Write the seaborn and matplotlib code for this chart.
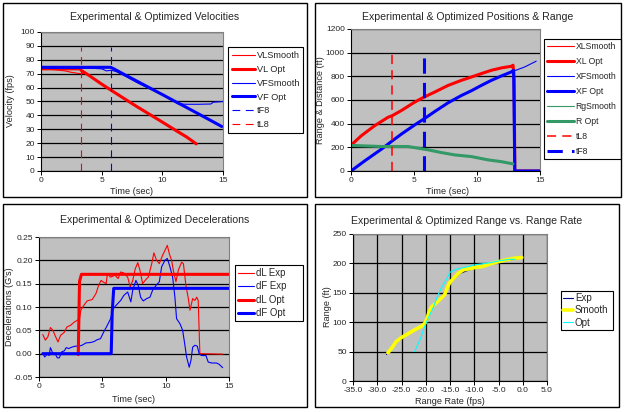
import matplotlib
matplotlib.use("Agg")
import matplotlib.pyplot as plt
import seaborn as sns
from matplotlib.patches import Rectangle
from matplotlib.ticker import FormatStrFormatter

# ---- panel 1: velocities (fps) vs time (sec)
vl_smooth_t = [0, 1, 2, 2.5, 3, 3.3, 3.6, 4, 5, 6, 7, 8, 9, 10, 11, 12, 12.8]
vl_smooth_v = [73.5, 73, 72, 71, 70.3, 70, 70.2, 68.5, 62.3, 56.5, 51, 45.5, 40.3, 35, 29.3, 24, 19.3]
vl_opt_t = [0, 3.2, 3.3, 4, 5, 5.8, 7, 8, 9, 10, 11, 12, 12.8]
vl_opt_v = [73.5, 73.5, 72.5, 68.5, 62.5, 58, 51.3, 45.8, 40.5, 35.2, 29.8, 24.5, 19.5]
vf_smooth_t = [0, 0.2, 0.5, 2, 4, 5, 5.4, 5.8, 6.2, 7, 8, 9, 10, 11, 11.3, 12, 13, 14, 14.2, 15]
vf_smooth_v = [75.8, 74.5, 74, 74, 74, 73.5, 72, 72.5, 71.5, 68, 63.2, 59, 54.8, 50, 48.3, 48, 48, 48.2, 49.5, 50]
vf_opt_t = [0, 5.75, 6, 7, 8, 9, 10, 11, 12, 13, 14, 14.9]
vf_opt_v = [74.6, 74.6, 73.5, 68.8, 64.2, 59.6, 55, 50.3, 45.7, 41, 36.3, 32]
tf8_t, tf8_v = [5.78, 5.78], [0, 89]
tl8_t, tl8_v = [3.28, 3.28], [0, 89]

# ---- panel 2: positions & range (ft) vs time (sec)
xl_t = [0, 0.82, 1.88, 2.94, 3.28, 4.0, 5.05, 5.79, 6.64, 7.7, 8.76, 9.55, 10.34, 11.14, 11.93, 12.72, 12.86, 12.95, 13.0, 15]
xl_v = [218, 298, 383, 454, 468, 511, 582, 624, 667, 723, 766, 794, 823, 851, 871, 885, 894, 780, 0, 0]
xf_opt_t = [0, 1.08, 2.41, 3.28, 4.0, 5.05, 5.79, 6.64, 7.7, 8.76, 9.55, 10.34, 11.14, 11.93, 12.72, 12.9, 12.92, 13.0, 15]
xf_opt_v = [0, 85, 184, 255, 312, 389, 440, 502, 576, 638, 678, 723, 766, 803, 837, 851, 740, 0, 0]
xf_smooth_t = [0, 1.08, 2.41, 3.28, 4.0, 5.05, 5.79, 6.64, 7.7, 8.76, 9.55, 10.34, 11.14, 11.93, 12.72, 13.78, 14.7]
xf_smooth_v = [0, 85, 184, 255, 312, 389, 440, 502, 576, 638, 678, 723, 766, 803, 837, 879, 928]
rg_t = [0, 0.82, 2.41, 4.52, 5.32, 6.11, 7.17, 8.23, 9.55, 10.87, 11.93, 12.86]
rg_v = [216, 213, 207, 207, 193, 179, 156, 136, 122, 94, 79, 60]
tl8_pos_t, tl8_pos_v = [3.28, 3.28], [0, 985]
tf8_pos_t, tf8_pos_v = [5.79, 5.79], [0, 985]

# ---- panel 3: decelerations (G's) vs time (sec)
dl_exp_t = [0.3, 0.5, 0.7, 0.9, 1.1, 1.3, 1.5, 1.7, 2.0, 2.2, 2.5, 2.8, 3.0, 3.2, 3.3, 3.55, 3.8, 4.2, 4.5, 4.7,
            4.9, 5.05, 5.3, 5.4, 5.65, 6.0, 6.25, 6.45, 6.7, 7.0, 7.2, 7.4, 7.6, 7.8, 7.97, 8.18, 8.44, 8.63, 8.9, 9.07,
            9.28, 9.5, 9.76, 9.94, 10.13, 10.29, 10.47, 10.6, 10.81, 11.0, 11.26, 11.4, 11.6, 11.79, 11.92, 12.13,
            12.31, 12.45, 12.57, 12.7, 14.5]
dl_exp_v = [.041, .029, .036, .056, .05, .037, .025, .039, .046, .057, .061, .068, .071, .075, .093, .104, .113, .116,
            .129, .146, .157, .154, .15, .171, .164, .168, .161, .175, .173, .164, .143, .157, .182, .195, .179, .15,
            .159, .164, .193, .216, .2, .193, .211, .221, .232, .214, .2, .179, .154, .179, .196, .193, .146, .118,
            .093, .118, .114, .121, .114, 0.0, -0.001]
df_exp_t = [0.3, 0.45, 0.65, 0.8, 0.9, 1.1, 1.25, 1.45, 1.6, 1.8, 2.0, 2.15, 2.35, 2.6, 2.85, 3.15, 3.4, 3.7, 4.1,
            4.35, 4.6, 4.85, 5.1, 5.4, 5.65, 5.85, 6.1, 6.45, 6.7, 7.0, 7.25, 7.4, 7.65, 7.84, 8.02, 8.23, 8.5, 8.76,
            8.97, 9.23, 9.5, 9.68, 9.94, 10.13, 10.34, 10.55, 10.73, 10.86, 11.13, 11.34, 11.52, 11.65, 11.86, 12.0,
            12.13, 12.31, 12.5, 12.65, 12.84, 13.18, 13.36, 13.63, 14.02, 14.23, 14.5]
df_exp_v = [.001, -.007, -.001, -.004, .013, 0, .001, -.009, -.009, .004, .006, .013, .011, .014, .016, .016, .018,
            .023, .024, .026, .03, .032, .046, .061, .075, .096, .104, .114, .125, .132, .111, .136, .157, .146, .121,
            .113, .118, .121, .136, .146, .154, .186, .2, .204, .186, .164, .121, .075, .064, .05, .018, -.007, -.029,
            -.014, .014, .018, .016, -.001, -.004, -.004, -.018, -.02, -.02, -.023, -.03]
dl_opt_t = [3.1, 3.2, 3.35, 15]
dl_opt_v = [-0.002, 0.155, 0.17, 0.17]
df_opt_t = [0.3, 5.7, 5.78, 5.9, 15]
df_opt_v = [0, 0, 0.089, 0.14, 0.14]

# ---- panel 4: range (ft) vs range rate (fps)
exp_rr = [-28.1, -27.5, -26, -24, -22, -20.5, -19.5, -19.2, -18.5, -17, -15, -13, -10, -7, -4, -1, -0.2]
exp_rg = [45, 50, 66, 78, 88, 95, 110, 121, 129, 140, 166, 183, 192, 198, 204, 208, 210]
smooth_rr = [-27.8, -27.1, -26.1, -25.0, -23.7, -22.3, -20.9, -20.2, -19.7, -19.3, -18.8, -17.8, -16.8, -16.1,
             -15.6, -15.1, -14.2, -13.3, -12.3, -10.9, -9.9, -8.2, -6.8, -4.0, -1.9, -0.2]
smooth_rg = [48, 55, 67, 74, 80, 87, 93, 98, 107, 118, 126, 133, 141, 147, 158, 167, 175, 183, 189, 191, 193,
             195, 199, 205, 208.5, 210]
opt_rr = [-22.3, -21.2, -20.2, -19.5, -18.5, -17.6, -16.8, -15.7, -15.0, -13.7, -11.6, -9.6, -6.8, -4.7, -2.6, -1.5]
opt_rg = [50, 70, 93, 107, 124, 144, 158, 173, 185, 190, 194, 198, 201, 204.6, 207, 207]

sns.set_theme(style="white")
plt.rcParams["font.family"] = ["Liberation Sans", "DejaVu Sans"]
plt.rcParams.update({"axes.linewidth": 0.8, "axes.unicode_minus": False})

RED, BLUE, GREEN = "#FF0000", "#0000FF", "#339966"
W, H = 624, 412
THIN, THICK = 0.8, 2.2

fig = plt.figure(figsize=(W / 100, H / 100), dpi=100)


def px_box(x0, y0, x1, y1):
    return [x0 / W, 1 - y1 / H, (x1 - x0) / W, (y1 - y0) / H]


def line(ax, x, y, **kw):
    sns.lineplot(x=x, y=y, ax=ax, sort=False, estimator=None, **kw)


def setup(ax, xlim, ylim, xticks, yticks, vgrid=False):
    ax.set_facecolor("#C0C0C0")
    ax.set_xlim(*xlim)
    ax.set_ylim(*ylim)
    ax.set_xticks(xticks)
    ax.set_yticks(yticks)
    # Excel style gridlines, drawn under the series
    for y in yticks:
        ax.axhline(y, color="black", lw=0.9, zorder=0.5)
    if vgrid:
        for x in xticks:
            ax.axvline(x, color="black", lw=0.9, zorder=0.5)
    ax.tick_params(bottom=True, left=True, direction="out", length=3, width=0.7,
                   color="black", labelsize=6, pad=1.5)
    for s in ("top", "right"):
        ax.spines[s].set_color("#808080")
    for s in ("left", "bottom"):
        ax.spines[s].set_color("black")
    ax.set_xlabel("")
    ax.set_ylabel("")


def legend(ax, box, fs, pitch, hl, pad):
    x0, y0, x1, y1 = box
    fpx = fs * 100 / 72
    leg = ax.legend(loc="upper left", mode="expand",
                    bbox_to_anchor=(x0 / W, 1 - y0 / H, (x1 - x0) / W, 0),
                    bbox_transform=fig.transFigure, fontsize=fs, frameon=True,
                    fancybox=False, edgecolor="black", framealpha=1,
                    borderaxespad=0, borderpad=pad / fpx, handlelength=hl / fpx,
                    handletextpad=0.2, labelspacing=(pitch - 1.03 * fpx) / fpx)
    leg.get_frame().set_linewidth(0.8)


def label(x, y, s, rot=0, size=6.6):
    fig.text(x / W, 1 - y / H, s, ha="center", va="center", rotation=rot, fontsize=size)


# panel borders
for (x0, y0, x1, y1) in [(3, 3, 307, 197), (315, 3, 621, 197), (3, 204, 307, 407), (315, 204, 619, 407)]:
    fig.patches.append(Rectangle((x0 / W, 1 - y1 / H), (x1 - x0) / W, (y1 - y0) / H,
                                 transform=fig.transFigure, fill=False, ec="black", lw=1))

# ---- panel 1
ax1 = fig.add_axes(px_box(41, 32, 223, 171))
line(ax1, vl_smooth_t, vl_smooth_v, color=RED, lw=THIN, label="VLSmooth")
line(ax1, vl_opt_t, vl_opt_v, color=RED, lw=THICK, label="VL Opt")
line(ax1, vf_smooth_t, vf_smooth_v, color=BLUE, lw=THIN, label="VFSmooth")
line(ax1, vf_opt_t, vf_opt_v, color=BLUE, lw=THICK, label="VF Opt")
line(ax1, tf8_t, tf8_v, color=BLUE, lw=THIN, linestyle=(0, (7, 5)), label="tF8")
line(ax1, tl8_t, tl8_v, color=RED, lw=THIN, linestyle=(0, (7, 5)), label="tL8")
setup(ax1, (0, 15), (0, 100), [0, 5, 10, 15], range(0, 101, 10))
legend(ax1, (228, 47, 303, 135), fs=6.6, pitch=14.3, hl=23, pad=4)
label(155, 17, "Experimental & Optimized Velocities", size=7.6)
label(132, 192, "Time (sec)")
label(11, 101, "Velocity (fps)", rot=90)

# ---- panel 2
ax2 = fig.add_axes(px_box(351, 29, 540, 171))
line(ax2, xl_t, xl_v, color=RED, lw=THIN, label="XLSmooth")
line(ax2, xl_t, xl_v, color=RED, lw=THICK, label="XL Opt")
line(ax2, xf_smooth_t, xf_smooth_v, color=BLUE, lw=THIN, label="XFSmooth")
line(ax2, xf_opt_t, xf_opt_v, color=BLUE, lw=THICK, label="XF Opt")
line(ax2, rg_t, rg_v, color=GREEN, lw=THIN, label="RgSmooth")
line(ax2, rg_t, rg_v, color=GREEN, lw=THICK, label="R Opt")
line(ax2, tl8_pos_t, tl8_pos_v, color=RED, lw=1.1, linestyle=(0, (6, 4)), label="tL8")
line(ax2, tf8_pos_t, tf8_pos_v, color=BLUE, lw=THICK, linestyle=(0, (5, 3)), label="tF8")
setup(ax2, (0, 15), (0, 1200), [0, 5, 10, 15], range(0, 1201, 200))
legend(ax2, (544, 39, 621, 161), fs=6.2, pitch=14.9, hl=27, pad=3)
label(468, 17, "Experimental & Optimized Positions & Range", size=7.6)
label(447, 192, "Time (sec)")
label(321, 100, "Range & Distance (ft)", rot=90)

# ---- panel 3
ax3 = fig.add_axes(px_box(39, 237, 229, 377))
line(ax3, dl_exp_t, dl_exp_v, color=RED, lw=THIN, label="dL Exp")
line(ax3, df_exp_t, df_exp_v, color=BLUE, lw=THIN, label="dF Exp")
line(ax3, dl_opt_t, dl_opt_v, color=RED, lw=THICK, label="dL Opt")
line(ax3, df_opt_t, df_opt_v, color=BLUE, lw=THICK, label="dF Opt")
setup(ax3, (0, 15), (-0.05, 0.25), [0, 5, 10, 15], [-0.05, 0, 0.05, 0.1, 0.15, 0.2, 0.25])
ax3.yaxis.set_major_formatter(FormatStrFormatter("%.2f"))
legend(ax3, (235, 265, 303, 318), fs=6.9, pitch=13.3, hl=16, pad=3)
label(155, 220, "Experimental & Optimized Decelerations", size=7.6)
label(133, 400, "Time (sec)")
label(10, 307, "Decelerations (G's)", rot=90)

# ---- panel 4
ax4 = fig.add_axes(px_box(353, 234, 547, 381))
line(ax4, exp_rr, exp_rg, color="#000080", lw=THIN, label="Exp")
line(ax4, smooth_rr, smooth_rg, color="#FFFF00", lw=2.6, label="Smooth")
line(ax4, opt_rr, opt_rg, color="#00FFFF", lw=THIN, label="Opt")
setup(ax4, (-35, 5), (0, 250), range(-35, 6, 5), range(0, 251, 50), vgrid=True)
ax4.xaxis.set_major_formatter(FormatStrFormatter("%.1f"))
legend(ax4, (561, 291, 613, 328), fs=7.0, pitch=12.3, hl=10, pad=2)
label(467, 221, "Experimental & Optimized Range vs. Range Rate", size=7.6)
label(450, 401, "Range Rate (fps)")
label(328, 307, "Range (ft)", rot=90)

fig.savefig("out.png", dpi=100, facecolor="white")
